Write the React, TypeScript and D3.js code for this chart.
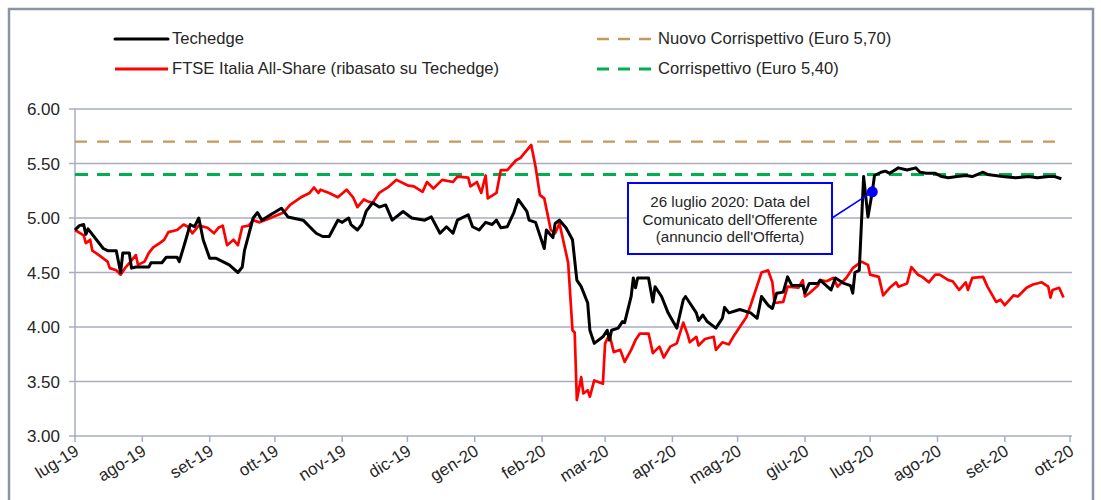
import React from "react";
import * as d3 from "d3";

// ---------- DATA ----------
const monthTickDates = [
  "2019-07-01", "2019-08-01", "2019-09-01", "2019-10-01", "2019-11-01", "2019-12-01",
  "2020-01-01", "2020-02-01", "2020-03-01", "2020-04-01", "2020-05-01", "2020-06-01",
  "2020-07-01", "2020-08-01", "2020-09-01", "2020-10-01",
];
const monthTickLabels = [
  "lug-19", "ago-19", "set-19", "ott-19", "nov-19", "dic-19",
  "gen-20", "feb-20", "mar-20", "apr-20", "mag-20", "giu-20",
  "lug-20", "ago-20", "set-20", "ott-20",
];
const yTicks = [3.0, 3.5, 4.0, 4.5, 5.0, 5.5, 6.0];

const techedge: [string, number][] = [
  ["2019-07-01", 4.89], ["2019-07-03", 4.93], ["2019-07-05", 4.94], ["2019-07-06", 4.85],
  ["2019-07-07", 4.9], ["2019-07-14", 4.72], ["2019-07-16", 4.7], ["2019-07-20", 4.7],
  ["2019-07-22", 4.5], ["2019-07-23", 4.68], ["2019-07-26", 4.68], ["2019-07-27", 4.54],
  ["2019-07-29", 4.55], ["2019-08-04", 4.55], ["2019-08-05", 4.59], ["2019-08-10", 4.59],
  ["2019-08-12", 4.64], ["2019-08-17", 4.64], ["2019-08-18", 4.6], ["2019-08-21", 4.8],
  ["2019-08-23", 4.94], ["2019-08-25", 4.92], ["2019-08-27", 5.0], ["2019-08-29", 4.8],
  ["2019-09-01", 4.63], ["2019-09-04", 4.63], ["2019-09-07", 4.6], ["2019-09-10", 4.57],
  ["2019-09-14", 4.5], ["2019-09-16", 4.55], ["2019-09-17", 4.7], ["2019-09-21", 5.0],
  ["2019-09-23", 5.05], ["2019-09-25", 4.98], ["2019-09-29", 5.03], ["2019-10-04", 5.09],
  ["2019-10-07", 5.01], ["2019-10-14", 4.98], ["2019-10-20", 4.86], ["2019-10-23", 4.83],
  ["2019-10-26", 4.83], ["2019-10-30", 4.98], ["2019-11-01", 4.96], ["2019-11-04", 5.0],
  ["2019-11-05", 4.94], ["2019-11-08", 4.89], ["2019-11-10", 4.94], ["2019-11-12", 5.06],
  ["2019-11-15", 5.14], ["2019-11-18", 5.1], ["2019-11-21", 5.12], ["2019-11-24", 4.98],
  ["2019-11-29", 5.06], ["2019-12-03", 5.0], ["2019-12-09", 4.98], ["2019-12-12", 5.01],
  ["2019-12-16", 4.86], ["2019-12-19", 4.92], ["2019-12-22", 4.86], ["2019-12-24", 4.98],
  ["2019-12-29", 5.03], ["2019-12-31", 4.92], ["2020-01-03", 4.89], ["2020-01-06", 4.96],
  ["2020-01-09", 4.94], ["2020-01-11", 4.98], ["2020-01-13", 4.91], ["2020-01-16", 4.92],
  ["2020-01-19", 5.05], ["2020-01-21", 5.17], ["2020-01-25", 5.06], ["2020-01-26", 4.98],
  ["2020-01-29", 4.96], ["2020-02-02", 4.72], ["2020-02-03", 4.89], ["2020-02-06", 4.82],
  ["2020-02-07", 4.95], ["2020-02-09", 4.98], ["2020-02-12", 4.91], ["2020-02-15", 4.8],
  ["2020-02-17", 4.43], ["2020-02-19", 4.37], ["2020-02-22", 4.22], ["2020-02-23", 3.97],
  ["2020-02-25", 3.85], ["2020-02-29", 3.91], ["2020-03-02", 3.97], ["2020-03-03", 3.88],
  ["2020-03-04", 3.97], ["2020-03-07", 3.99], ["2020-03-09", 4.05], ["2020-03-10", 4.04],
  ["2020-03-13", 4.28], ["2020-03-14", 4.45], ["2020-03-15", 4.36], ["2020-03-16", 4.45],
  ["2020-03-21", 4.45], ["2020-03-23", 4.23], ["2020-03-24", 4.37], ["2020-03-27", 4.28],
  ["2020-03-30", 4.13], ["2020-04-01", 4.06], ["2020-04-03", 3.99], ["2020-04-06", 4.25],
  ["2020-04-07", 4.28], ["2020-04-09", 4.22], ["2020-04-12", 4.13], ["2020-04-13", 4.06],
  ["2020-04-15", 4.11], ["2020-04-17", 4.05], ["2020-04-21", 3.99], ["2020-04-24", 4.08],
  ["2020-04-25", 4.18], ["2020-04-27", 4.13], ["2020-05-02", 4.16], ["2020-05-07", 4.13],
  ["2020-05-10", 4.08], ["2020-05-12", 4.28], ["2020-05-15", 4.2], ["2020-05-17", 4.17],
  ["2020-05-19", 4.31], ["2020-05-22", 4.32], ["2020-05-24", 4.46], ["2020-05-26", 4.38],
  ["2020-05-31", 4.38], ["2020-06-01", 4.31], ["2020-06-03", 4.4], ["2020-06-07", 4.4],
  ["2020-06-08", 4.43], ["2020-06-13", 4.34], ["2020-06-15", 4.45], ["2020-06-19", 4.4],
  ["2020-06-22", 4.38], ["2020-06-23", 4.31], ["2020-06-24", 4.5], ["2020-06-26", 4.52],
  ["2020-06-28", 5.38], ["2020-06-30", 5.01], ["2020-07-02", 5.24], ["2020-07-03", 5.39],
  ["2020-07-06", 5.42], ["2020-07-08", 5.43], ["2020-07-10", 5.41], ["2020-07-14", 5.46],
  ["2020-07-18", 5.44], ["2020-07-22", 5.46], ["2020-07-24", 5.42], ["2020-07-27", 5.41],
  ["2020-07-31", 5.41], ["2020-08-03", 5.38], ["2020-08-06", 5.37], ["2020-08-10", 5.38],
  ["2020-08-14", 5.39], ["2020-08-17", 5.38], ["2020-08-22", 5.42], ["2020-08-24", 5.4],
  ["2020-08-31", 5.38], ["2020-09-06", 5.37], ["2020-09-12", 5.38], ["2020-09-16", 5.37],
  ["2020-09-21", 5.38], ["2020-09-24", 5.38], ["2020-09-27", 5.36],
];

const ftse: [string, number][] = [
  ["2019-07-01", 4.89], ["2019-07-05", 4.84], ["2019-07-06", 4.77], ["2019-07-08", 4.8],
  ["2019-07-09", 4.7], ["2019-07-12", 4.66], ["2019-07-16", 4.6], ["2019-07-17", 4.54],
  ["2019-07-20", 4.52], ["2019-07-22", 4.48], ["2019-07-24", 4.54], ["2019-07-27", 4.61],
  ["2019-07-29", 4.66], ["2019-07-30", 4.57], ["2019-08-02", 4.6], ["2019-08-04", 4.68],
  ["2019-08-06", 4.73], ["2019-08-09", 4.77], ["2019-08-11", 4.8], ["2019-08-13", 4.87],
  ["2019-08-17", 4.89], ["2019-08-20", 4.94], ["2019-08-22", 4.92], ["2019-08-24", 4.86],
  ["2019-08-27", 4.93], ["2019-08-31", 4.91], ["2019-09-03", 4.86], ["2019-09-05", 4.91],
  ["2019-09-07", 4.93], ["2019-09-09", 4.75], ["2019-09-12", 4.8], ["2019-09-14", 4.75],
  ["2019-09-16", 4.92], ["2019-09-19", 4.93], ["2019-09-21", 4.98], ["2019-09-24", 4.96],
  ["2019-09-29", 5.0], ["2019-10-05", 5.05], ["2019-10-08", 5.12], ["2019-10-13", 5.19],
  ["2019-10-17", 5.23], ["2019-10-19", 5.28], ["2019-10-21", 5.23], ["2019-10-22", 5.26],
  ["2019-10-26", 5.23], ["2019-10-30", 5.19], ["2019-11-03", 5.26], ["2019-11-06", 5.19],
  ["2019-11-08", 5.1], ["2019-11-11", 5.17], ["2019-11-13", 5.15], ["2019-11-15", 5.14],
  ["2019-11-18", 5.23], ["2019-11-22", 5.28], ["2019-11-26", 5.35], ["2019-12-01", 5.3],
  ["2019-12-04", 5.29], ["2019-12-08", 5.24], ["2019-12-10", 5.33], ["2019-12-13", 5.27],
  ["2019-12-17", 5.35], ["2019-12-22", 5.33], ["2019-12-24", 5.38], ["2019-12-29", 5.37],
  ["2019-12-30", 5.29], ["2020-01-02", 5.33], ["2020-01-04", 5.23], ["2020-01-06", 5.39],
  ["2020-01-07", 5.18], ["2020-01-11", 5.23], ["2020-01-13", 5.44], ["2020-01-16", 5.44],
  ["2020-01-20", 5.53], ["2020-01-22", 5.55], ["2020-01-27", 5.67], ["2020-01-29", 5.47],
  ["2020-01-31", 5.21], ["2020-02-02", 5.18], ["2020-02-05", 4.89], ["2020-02-07", 4.86],
  ["2020-02-09", 4.95], ["2020-02-10", 4.86], ["2020-02-13", 4.59], ["2020-02-15", 3.97],
  ["2020-02-16", 3.95], ["2020-02-17", 3.33], ["2020-02-19", 3.54], ["2020-02-20", 3.39],
  ["2020-02-22", 3.42], ["2020-02-23", 3.36], ["2020-02-25", 3.51], ["2020-02-29", 3.48],
  ["2020-03-01", 3.85], ["2020-03-03", 3.93], ["2020-03-05", 3.77], ["2020-03-08", 3.79],
  ["2020-03-10", 3.68], ["2020-03-13", 3.79], ["2020-03-15", 3.88], ["2020-03-17", 3.94],
  ["2020-03-21", 3.94], ["2020-03-23", 3.76], ["2020-03-26", 3.82], ["2020-03-28", 3.72],
  ["2020-03-31", 3.82], ["2020-04-03", 3.85], ["2020-04-06", 4.04], ["2020-04-08", 3.93],
  ["2020-04-09", 3.86], ["2020-04-12", 3.91], ["2020-04-13", 3.83], ["2020-04-16", 3.89],
  ["2020-04-20", 3.91], ["2020-04-21", 3.79], ["2020-04-24", 3.86], ["2020-04-27", 3.84],
  ["2020-04-29", 3.91], ["2020-05-02", 4.0], ["2020-05-05", 4.09], ["2020-05-07", 4.2],
  ["2020-05-10", 4.38], ["2020-05-12", 4.5], ["2020-05-15", 4.52], ["2020-05-17", 4.41],
  ["2020-05-18", 4.22], ["2020-05-22", 4.23], ["2020-05-24", 4.37], ["2020-05-29", 4.36],
  ["2020-05-31", 4.43], ["2020-06-01", 4.28], ["2020-06-03", 4.31], ["2020-06-07", 4.38],
  ["2020-06-08", 4.43], ["2020-06-11", 4.42], ["2020-06-14", 4.45], ["2020-06-16", 4.37],
  ["2020-06-20", 4.45], ["2020-06-23", 4.54], ["2020-06-27", 4.6], ["2020-06-30", 4.57],
  ["2020-07-01", 4.48], ["2020-07-05", 4.46], ["2020-07-07", 4.29], ["2020-07-10", 4.36],
  ["2020-07-13", 4.41], ["2020-07-14", 4.37], ["2020-07-18", 4.4], ["2020-07-20", 4.55],
  ["2020-07-23", 4.48], ["2020-07-25", 4.46], ["2020-07-28", 4.41], ["2020-07-31", 4.48],
  ["2020-08-02", 4.48], ["2020-08-06", 4.43], ["2020-08-08", 4.42], ["2020-08-11", 4.34],
  ["2020-08-14", 4.41], ["2020-08-15", 4.34], ["2020-08-17", 4.45], ["2020-08-22", 4.46],
  ["2020-08-24", 4.37], ["2020-08-28", 4.23], ["2020-08-30", 4.25], ["2020-09-01", 4.2],
  ["2020-09-05", 4.29], ["2020-09-07", 4.28], ["2020-09-11", 4.36], ["2020-09-14", 4.39],
  ["2020-09-18", 4.41], ["2020-09-21", 4.37], ["2020-09-22", 4.27], ["2020-09-23", 4.34],
  ["2020-09-26", 4.36], ["2020-09-28", 4.27],
];

const nuovoCorrispettivo = 5.7;
const corrispettivo = 5.4;
const annotationPoint: [string, number] = ["2020-07-02", 5.24];
const annotationLines = ["26 luglio 2020: Data del", "Comunicato dell'Offerente", "(annuncio dell'Offerta)"];
const legendLabels = [
  "Techedge",
  "FTSE Italia All-Share (ribasato su Techedge)",
  "Nuovo Corrispettivo (Euro 5,70)",
  "Corrispettivo (Euro 5,40)",
];

// ---------- CHART ----------
const W = 1101;
const H = 500;
const FONT = "'Liberation Sans', Arial, sans-serif";
const GRID = "#a9adbf";
const TXT = "#262626";

export default function App() {
  const parse = d3.timeParse("%Y-%m-%d");
  const tickDates = monthTickDates.map((d) => parse(d)!);
  const x = d3
    .scaleTime()
    .domain([tickDates[0], tickDates[tickDates.length - 1]])
    .range([75, 1070]);
  const y = d3.scaleLinear().domain([3, 6]).range([436, 109]);

  const tData = techedge.map(([d, v]) => ({ date: parse(d)!, v }));
  const fData = ftse.map(([d, v]) => ({ date: parse(d)!, v }));
  const line = d3
    .line<{ date: Date; v: number }>()
    .x((d) => x(d.date))
    .y((d) => y(d.v));

  const dateExtent = d3.extent([...tData, ...fData], (d) => d.date) as [Date, Date];
  const refX0 = x(dateExtent[0]);
  const refX1 = x(dateExtent[1]);

  const aX = x(parse(annotationPoint[0])!);
  const aY = y(annotationPoint[1]);
  const box = { x: 628, y: 183, w: 204, h: 71 };

  return (
    <svg
      width={W}
      height={H}
      style={{ position: "absolute", left: 0, top: 0, background: "#fff" }}
      fontFamily={FONT}
    >
      <rect x={0} y={0} width={W} height={H} fill="#fff" />
      {/* outer frame */}
      <rect x={9} y={9} width={1084} height={520} fill="none" stroke="#8b93a7" strokeWidth={2.5} />

      {/* gridlines */}
      {yTicks.map((t) => (
        <line key={t} x1={75} x2={1072} y1={y(t)} y2={y(t)} stroke={GRID} strokeWidth={1.5} />
      ))}
      {/* y axis */}
      <line x1={75} x2={75} y1={y(6)} y2={y(3) + 1} stroke={GRID} strokeWidth={1.5} />
      {yTicks.map((t) => (
        <g key={"yt" + t}>
          <line x1={69} x2={75} y1={y(t)} y2={y(t)} stroke={GRID} strokeWidth={1.5} />
          <text x={60} y={y(t) + 6} textAnchor="end" fontSize={17} fill={TXT}>
            {t.toFixed(2)}
          </text>
        </g>
      ))}
      {/* x ticks */}
      {tickDates.map((d, i) => (
        <g key={"xt" + i}>
          <line x1={x(d)} x2={x(d)} y1={y(3)} y2={y(3) + 6} stroke={GRID} strokeWidth={1.5} />
          <text
            transform={`translate(${x(d) + 5},${y(3) + 18}) rotate(-32)`}
            textAnchor="end"
            fontSize={17}
            fill={TXT}
          >
            {monthTickLabels[i]}
          </text>
        </g>
      ))}

      {/* reference lines */}
      <line x1={refX0} x2={refX1} y1={y(nuovoCorrispettivo)} y2={y(nuovoCorrispettivo)}
        stroke="#c49a5c" strokeWidth={2.2} strokeDasharray="12 10" />
      <line x1={refX0} x2={refX1} y1={y(corrispettivo)} y2={y(corrispettivo)}
        stroke="#00b050" strokeWidth={3} strokeDasharray="13 9" />

      {/* series */}
      <path d={line(fData)!} fill="none" stroke="#ff0000" strokeWidth={2.7} strokeLinejoin="round" />
      <path d={line(tData)!} fill="none" stroke="#000" strokeWidth={3} strokeLinejoin="round" />

      {/* annotation */}
      <line x1={box.x + box.w} y1={218} x2={aX} y2={aY} stroke="#0000ff" strokeWidth={1.5} />
      <circle cx={aX} cy={aY} r={5.5} fill="#0000ff" />
      <rect x={box.x} y={box.y} width={box.w} height={box.h} fill="#fff" stroke="#0000ff" strokeWidth={2} />
      {annotationLines.map((l, i) => (
        <text key={l} x={box.x + box.w / 2} y={207 + i * 17.5} textAnchor="middle" fontSize={15.2} fill={TXT}>
          {l}
        </text>
      ))}

      {/* legend */}
      <line x1={115} x2={168} y1={39} y2={39} stroke="#000" strokeWidth={3} strokeLinecap="round" />
      <text x={172} y={44} fontSize={16.6} fill={TXT}>{legendLabels[0]}</text>
      <line x1={115} x2={168} y1={69} y2={69} stroke="#ff0000" strokeWidth={3} />
      <text x={172} y={74} fontSize={16.6} fill={TXT}>{legendLabels[1]}</text>
      <line x1={597} x2={651} y1={39} y2={39} stroke="#c49a5c" strokeWidth={2.5} strokeDasharray="12 9" />
      <text x={658} y={44} fontSize={16.6} fill={TXT}>{legendLabels[2]}</text>
      <line x1={597} x2={651} y1={69} y2={69} stroke="#00b050" strokeWidth={3} strokeDasharray="12 9" />
      <text x={658} y={74} fontSize={16.6} fill={TXT}>{legendLabels[3]}</text>
    </svg>
  );
}
